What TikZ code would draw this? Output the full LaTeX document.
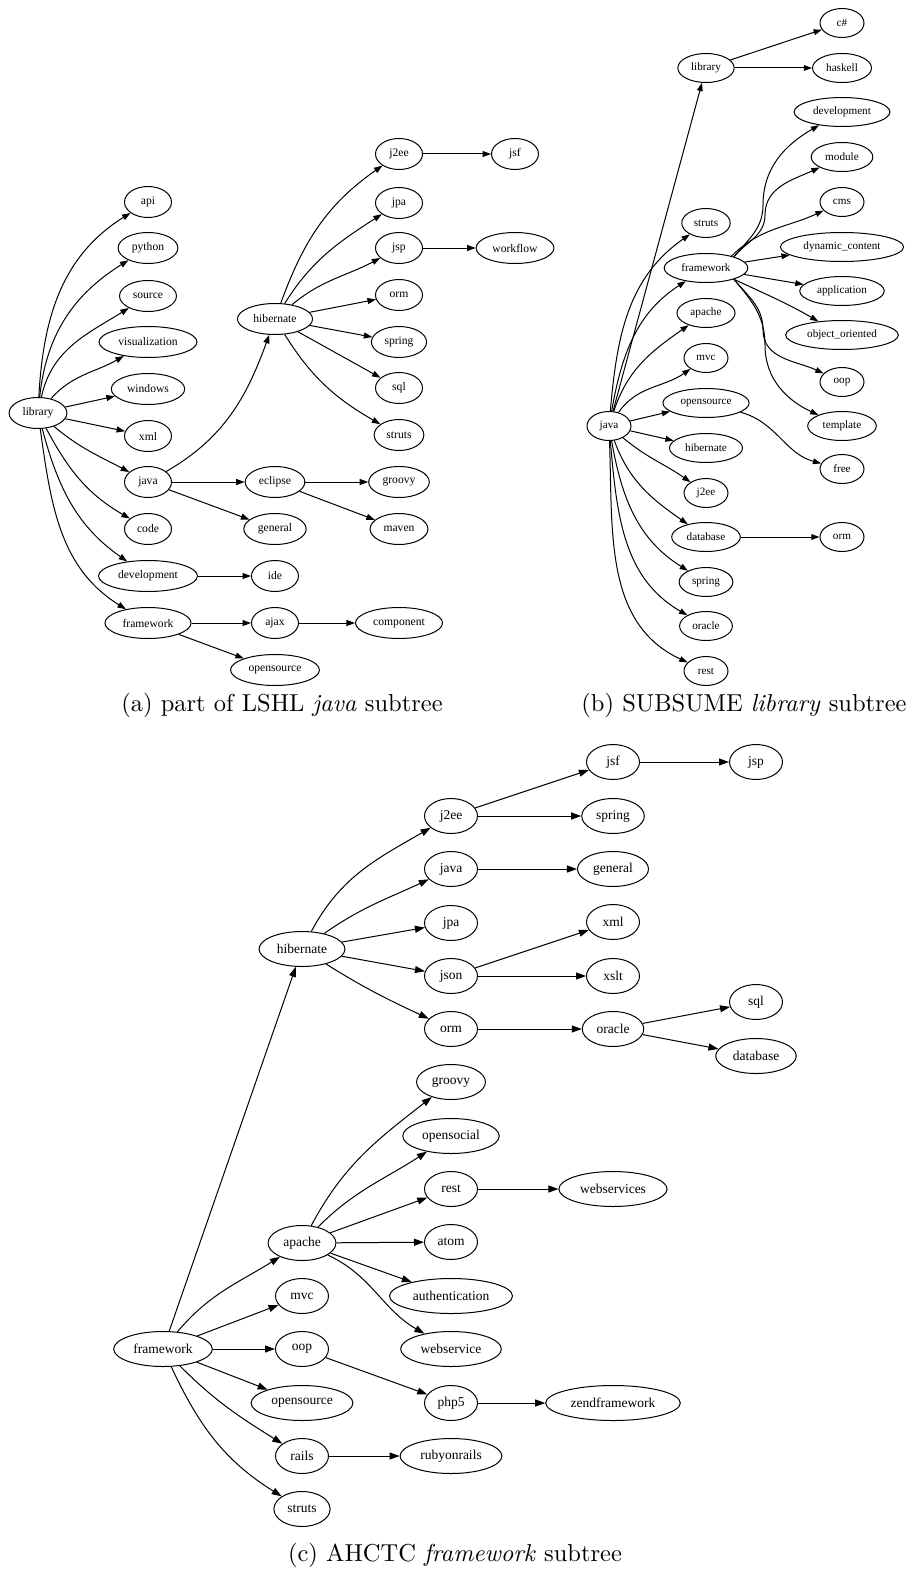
\documentclass[tikz,border=0pt]{standalone}
\usepackage{fontspec}
\newfontfamily\gvfont{Liberation Serif}
\usetikzlibrary{shapes.geometric,arrows.meta}
\begin{document}
\begin{tikzpicture}[x=0.4pt,y=-0.4pt,
  gnode/.style={draw,ellipse,line width=0.4pt,inner xsep=2pt,inner ysep=0pt},
  nodea/.style={gnode,minimum width=18.8pt,minimum height=12.4pt,font=\gvfont\fontsize{4.64}{5}\selectfont},
  nodeb/.style={gnode,minimum width=17.6pt,minimum height=11.6pt,font=\gvfont\fontsize{4.48}{5}\selectfont},
  nodec/.style={gnode,minimum width=21.2pt,minimum height=14pt,inner xsep=2.1pt,font=\gvfont\fontsize{5.4}{6}\selectfont},
  edgea/.style={line width=0.4pt,-{Triangle[length=3.4pt,width=2.4pt]}},
  edgeb/.style={line width=0.4pt,-{Triangle[length=3.3pt,width=2.3pt]}},
  edgec/.style={line width=0.4pt,-{Triangle[length=4pt,width=2.8pt]}},
  capt/.style={anchor=base,inner sep=0pt,font=\fontsize{9.8}{12}\selectfont}
]
\useasboundingbox (0,0) rectangle (912,1572);

% ---------------- (a) ----------------
\node[nodea] (alib) at (38,413) {library};
\node[nodea] (aapi) at (148,202) {api};
\node[nodea] (apython) at (148,248) {python};
\node[nodea] (asource) at (148,296) {source};
\node[nodea] (avis) at (148,342) {visualization};
\node[nodea] (awin) at (148,389) {windows};
\node[nodea] (axml) at (148,436) {xml};
\node[nodea] (ajava) at (148,482) {java};
\node[nodea] (acode) at (148,529) {code};
\node[nodea] (adev) at (148,576) {development};
\node[nodea] (afw) at (148,623) {framework};
\node[nodea] (ahib) at (275,319) {hibernate};
\node[nodea] (aecl) at (275,482) {eclipse};
\node[nodea] (agen) at (275,529) {general};
\node[nodea] (aide) at (275,576) {ide};
\node[nodea] (aajax) at (275,623) {ajax};
\node[nodea] (aos) at (275,670) {opensource};
\node[nodea] (aj2ee) at (399,154) {j2ee};
\node[nodea] (ajpa) at (399,203) {jpa};
\node[nodea] (ajsp) at (399,248) {jsp};
\node[nodea] (aorm) at (399,295) {orm};
\node[nodea] (aspring) at (399,342) {spring};
\node[nodea] (asql) at (399,388) {sql};
\node[nodea] (astruts) at (399,435) {struts};
\node[nodea] (agroovy) at (399,482) {groovy};
\node[nodea] (amaven) at (399,529) {maven};
\node[nodea] (acomp) at (399,623) {component};
\node[nodea] (ajsf) at (515,154) {jsf};
\node[nodea] (awork) at (515,248) {workflow};

\draw[edgea] (alib) to[out=87,in=212] (aapi);
\draw[edgea] (alib) to[out=84,in=212] (apython);
\draw[edgea] (alib) to[out=78,in=212] (asource);
\draw[edgea] (alib) to[out=48,in=210] (avis);
\draw[edgea] (alib) -- (awin);
\draw[edgea] (alib) -- (axml);
\draw[edgea] (alib) to[out=-40,in=152] (ajava);
\draw[edgea] (alib) to[out=-62,in=150] (acode);
\draw[edgea] (alib) to[out=-75,in=145] (adev);
\draw[edgea] (alib) to[out=-82,in=148] (afw);
\draw[edgea] (ajava) to[out=30,in=250] (ahib);
\draw[edgea] (ajava) -- (aecl);
\draw[edgea] (ajava) -- (agen);
\draw[edgea] (aecl) -- (agroovy);
\draw[edgea] (aecl) -- (amaven);
\draw[edgea] (adev) -- (aide);
\draw[edgea] (afw) -- (aajax);
\draw[edgea] (afw) -- (aos);
\draw[edgea] (aajax) -- (acomp);
\draw[edgea] (ahib) to[out=70,in=215] (aj2ee);
\draw[edgea] (ahib) to[out=58,in=213] (ajpa);
\draw[edgea] (ahib) to[out=40,in=208] (ajsp);
\draw[edgea] (ahib) -- (aorm);
\draw[edgea] (ahib) -- (aspring);
\draw[edgea] (ahib) -- (asql);
\draw[edgea] (ahib) to[out=-58,in=150] (astruts);
\draw[edgea] (aj2ee) -- (ajsf);
\draw[edgea] (ajsp) -- (awork);

\node[capt] (capa) at (282,711) {(a) part of LSHL \textit{java} subtree};

% ---------------- (b) ----------------
\node[nodeb] (bjava) at (609,426) {java};
\node[nodeb] (blib) at (706,68) {library};
\node[nodeb] (bstruts) at (706,223) {struts};
\node[nodeb] (bfw) at (706,268) {framework};
\node[nodeb] (bapache) at (706,313) {apache};
\node[nodeb] (bmvc) at (706,358) {mvc};
\node[nodeb] (bos) at (706,403) {opensource};
\node[nodeb] (bhib) at (706,448) {hibernate};
\node[nodeb] (bj2ee) at (706,493) {j2ee};
\node[nodeb] (bdb) at (706,537) {database};
\node[nodeb] (bspring) at (706,582) {spring};
\node[nodeb] (boracle) at (706,626) {oracle};
\node[nodeb] (brest) at (706,671) {rest};
\node[nodeb] (bc) at (842,23) {c\#};
\node[nodeb] (bhask) at (842,68) {haskell};
\node[nodeb] (bdev) at (842,112) {development};
\node[nodeb] (bmod) at (842,157) {module};
\node[nodeb] (bcms) at (842,202) {cms};
\node[nodeb] (bdyn) at (842,247) {dynamic\_content};
\node[nodeb] (bapp) at (842,291) {application};
\node[nodeb] (boo) at (842,335) {object\_oriented};
\node[nodeb] (boop) at (842,382) {oop};
\node[nodeb] (btempl) at (842,426) {template};
\node[nodeb] (bfree) at (842,469) {free};
\node[nodeb] (borm) at (842,537) {orm};

\draw[edgeb] (bjava) -- (blib);
\draw[edgeb] (bjava) to[out=85,in=215] (bstruts);
\draw[edgeb] (bjava) to[out=80,in=213] (bfw);
\draw[edgeb] (bjava) to[out=72,in=215] (bapache);
\draw[edgeb] (bjava) to[out=55,in=215] (bmvc);
\draw[edgeb] (bjava) -- (bos);
\draw[edgeb] (bjava) -- (bhib);
\draw[edgeb] (bjava) to[out=-40,in=145] (bj2ee);
\draw[edgeb] (bjava) to[out=-70,in=145] (bdb);
\draw[edgeb] (bjava) to[out=-80,in=148] (bspring);
\draw[edgeb] (bjava) to[out=-85,in=150] (boracle);
\draw[edgeb] (bjava) to[out=-88,in=155] (brest);
\draw[edgeb] (blib) -- (bc);
\draw[edgeb] (blib) -- (bhask);
\draw[edgeb] (bfw.22) to[out=50,in=-90] (763,205) to[out=90,in=210] (bdev);
\draw[edgeb] (bfw.22) to[out=50,in=-90] (765,215) to[out=90,in=205] (bmod);
\draw[edgeb] (bfw.25) to[out=45,in=205] (bcms);
\draw[edgeb] (bfw) -- (bdyn);
\draw[edgeb] (bfw) -- (bapp);
\draw[edgeb] (bfw.-22) to[out=-25,in=150] (boo);
\draw[edgeb] (bfw.-22) to[out=-50,in=90] (763,330) to[out=-90,in=155] (boop);
\draw[edgeb] (bfw.-22) to[out=-50,in=90] (765,345) to[out=-90,in=155] (btempl);
\draw[edgeb] (bos) to[out=-15,in=165] (bfree);
\draw[edgeb] (bdb) -- (borm);

\node[capt] (capb) at (744,711) {(b) SUBSUME \textit{library} subtree};

% ---------------- (c) ----------------
\node[nodec] (cfw) at (163,1349) {framework};
\node[nodec] (chib) at (302,949) {hibernate};
\node[nodec] (capache) at (302,1243) {apache};
\node[nodec] (cmvc) at (302,1296) {mvc};
\node[nodec] (coop) at (302,1349) {oop};
\node[nodec] (cos) at (302,1403) {opensource};
\node[nodec] (crails) at (302,1456) {rails};
\node[nodec] (cstruts) at (302,1509) {struts};
\node[nodec] (cj2ee) at (451,816) {j2ee};
\node[nodec] (cjava) at (451,869) {java};
\node[nodec] (cjpa) at (451,923) {jpa};
\node[nodec] (cjson) at (451,976) {json};
\node[nodec] (corm) at (451,1029) {orm};
\node[nodec] (cgroovy) at (451,1082) {groovy};
\node[nodec] (copensocial) at (451,1136) {opensocial};
\node[nodec] (crest) at (451,1189) {rest};
\node[nodec] (catom) at (451,1242) {atom};
\node[nodec] (cauth) at (451,1296) {authentication};
\node[nodec] (cwebservice) at (451,1349) {webservice};
\node[nodec] (cphp) at (451,1403) {php5};
\node[nodec] (crubyonrails) at (451,1456) {rubyonrails};
\node[nodec] (cjsf) at (613,762) {jsf};
\node[nodec] (cspring) at (613,816) {spring};
\node[nodec] (cgeneral) at (613,869) {general};
\node[nodec] (cxml) at (613,922) {xml};
\node[nodec] (cxslt) at (613,976) {xslt};
\node[nodec] (coracle) at (613,1029) {oracle};
\node[nodec] (cwebservices) at (613,1189) {webservices};
\node[nodec] (czend) at (613,1403) {zendframework};
\node[nodec] (cjsp) at (756,762) {jsp};
\node[nodec] (csql) at (756,1002) {sql};
\node[nodec] (cdb) at (756,1056) {database};

\draw[edgec] (cfw) -- (chib);
\draw[edgec] (cfw) to[out=50,in=212] (capache);
\draw[edgec] (cfw) -- (cmvc);
\draw[edgec] (cfw) -- (coop);
\draw[edgec] (cfw) -- (cos);
\draw[edgec] (cfw) to[out=-45,in=148] (crails);
\draw[edgec] (cfw) to[out=-65,in=148] (cstruts);
\draw[edgec] (chib) to[out=62,in=210] (cj2ee);
\draw[edgec] (chib) to[out=35,in=205] (cjava);
\draw[edgec] (chib) -- (cjpa);
\draw[edgec] (chib) -- (cjson);
\draw[edgec] (chib) to[out=-32,in=155] (corm);
\draw[edgec] (cj2ee) -- (cjsf);
\draw[edgec] (cj2ee) -- (cspring);
\draw[edgec] (cjava) -- (cgeneral);
\draw[edgec] (cjson) -- (cxml);
\draw[edgec] (cjson) -- (cxslt);
\draw[edgec] (corm) -- (coracle);
\draw[edgec] (coracle) -- (csql);
\draw[edgec] (coracle) -- (cdb);
\draw[edgec] (cjsf) -- (cjsp);
\draw[edgec] (capache) to[out=62,in=218] (cgroovy);
\draw[edgec] (capache) to[out=45,in=213] (copensocial);
\draw[edgec] (capache) -- (crest);
\draw[edgec] (capache) -- (catom);
\draw[edgec] (capache) -- (cauth);
\draw[edgec] (capache) to[out=-25,in=150] (cwebservice);
\draw[edgec] (crest) -- (cwebservices);
\draw[edgec] (coop) -- (cphp);
\draw[edgec] (cphp) -- (czend);
\draw[edgec] (crails) -- (crubyonrails);

\node[capt] (capc) at (455,1561) {(c) AHCTC \textit{framework} subtree};
\end{tikzpicture}
\end{document}
